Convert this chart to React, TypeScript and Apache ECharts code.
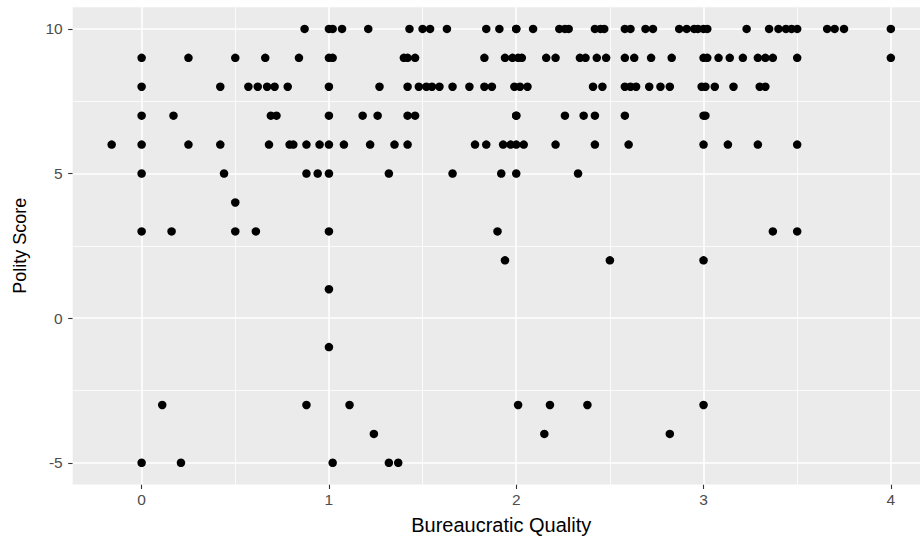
import React, { useEffect, useRef } from "react";
import * as echarts from "echarts";

// Bureaucratic quality (x) values of the countries at each Polity score (y)
const polity10 = [0.87, 1.0, 1.02, 1.07, 1.21, 1.43, 1.5, 1.54, 1.63, 1.84, 1.91, 2.0, 2.0, 2.09, 2.23, 2.26, 2.28, 2.42, 2.45, 2.47, 2.58, 2.61, 2.69, 2.73, 2.87, 2.91, 2.95, 2.97, 3.0, 3.02, 3.23, 3.35, 3.4, 3.44, 3.47, 3.5, 3.66, 3.7, 3.75, 4.0];
const polity9 = [0, 0.25, 0.5, 0.66, 0.84, 1.0, 1.02, 1.4, 1.42, 1.46, 1.83, 1.94, 1.98, 2.01, 2.03, 2.16, 2.21, 2.34, 2.37, 2.43, 2.48, 2.58, 2.63, 2.72, 2.83, 3.0, 3.02, 3.08, 3.14, 3.21, 3.29, 3.33, 3.37, 3.5, 4.0];
const polity8 = [0, 0.42, 0.57, 0.62, 0.67, 0.71, 0.78, 1.0, 1.27, 1.42, 1.48, 1.52, 1.55, 1.59, 1.66, 1.75, 1.83, 1.87, 1.99, 2.02, 2.06, 2.41, 2.46, 2.58, 2.61, 2.64, 2.71, 2.77, 2.82, 2.99, 3.01, 3.06, 3.16, 3.3, 3.33];
const polity7 = [0, 0.17, 0.69, 0.72, 1.0, 1.18, 1.26, 1.42, 1.46, 2.0, 2.0, 2.26, 2.36, 2.42, 2.58, 3.0, 3.01];
const polity6 = [-0.16, 0, 0.25, 0.42, 0.68, 0.79, 0.81, 0.88, 0.95, 1.0, 1.08, 1.22, 1.35, 1.42, 1.78, 1.84, 1.93, 1.97, 2.0, 2.04, 2.21, 2.42, 2.6, 3.0, 3.13, 3.29, 3.5];
const polity5 = [0, 0.44, 0.88, 0.94, 1.0, 1.32, 1.66, 1.92, 2.0, 2.33];
const polity4 = [0.5];
const polity3 = [0, 0.16, 0.5, 0.61, 1.0, 1.9, 3.37, 3.5];
const polity2 = [1.94, 2.5, 3.0];
const polity1 = [1.0];
const politym1 = [1.0];
const politym3 = [0.11, 0.88, 1.11, 2.01, 2.18, 2.38, 3.0];
const politym4 = [1.24, 2.15, 2.82];
const politym5 = [0, 0.21, 1.02, 1.32, 1.37];

const levels: [number, number[]][] = [
  [10, polity10], [9, polity9], [8, polity8], [7, polity7], [6, polity6],
  [5, polity5], [4, polity4], [3, polity3], [2, polity2], [1, polity1],
  [-1, politym1], [-3, politym3], [-4, politym4], [-5, politym5],
];

const xTicks = [0, 1, 2, 3, 4];
const yTicks = [-5, 0, 5, 10];
const xMinor = [0.5, 1.5, 2.5, 3.5];
const yMinor = [-2.5, 2.5, 7.5];

const FONT = "'Liberation Sans', Arial, Helvetica, sans-serif";

export default function App() {
  const ref = useRef<HTMLDivElement>(null);
  useEffect(() => {
    if (!ref.current) return;
    const chart = echarts.init(ref.current, undefined, { renderer: "svg" });
    const points: number[][] = [];
    levels.forEach(([y, xs]) => xs.forEach((x) => points.push([x, y])));

    const gridLines = [
      ...xTicks.map((v) => ({ xAxis: v, lineStyle: { width: 1.6 } })),
      ...yTicks.map((v) => ({ yAxis: v, lineStyle: { width: 1.6 } })),
      ...xMinor.map((v) => ({ xAxis: v, lineStyle: { width: 0.8 } })),
      ...yMinor.map((v) => ({ yAxis: v, lineStyle: { width: 0.8 } })),
    ];

    chart.setOption({
      animation: false,
      grid: {
        left: 72.7,
        top: 7.2,
        width: 857.1,
        height: 477.3,
        show: true,
        backgroundColor: "#EBEBEB",
        borderWidth: 0,
        containLabel: false,
        outerBoundsMode: "none",
      },
      xAxis: {
        type: "value",
        min: -0.368,
        max: 4.208,
        name: "Bureaucratic Quality",
        nameLocation: "middle",
        nameGap: 30,
        nameTextStyle: { fontFamily: FONT, fontSize: 20, color: "#000" },
        axisLine: { show: false, onZero: false },
        axisTick: {
          show: true,
          length: 4.5,
          customValues: xTicks,
          lineStyle: { color: "#333333", width: 1.1 },
        },
        axisLabel: {
          customValues: xTicks,
          margin: 7,
          fontFamily: FONT,
          fontSize: 15.5,
          color: "#4D4D4D",
        },
        splitLine: { show: false },
      },
      yAxis: {
        type: "value",
        min: -5.75,
        max: 10.75,
        name: "Polity Score",
        nameLocation: "middle",
        nameGap: 44,
        nameTextStyle: { fontFamily: FONT, fontSize: 18, color: "#000" },
        axisLine: { show: false, onZero: false },
        axisTick: {
          show: true,
          length: 4.5,
          customValues: yTicks,
          lineStyle: { color: "#333333", width: 1.1 },
        },
        axisLabel: {
          customValues: yTicks,
          margin: 10,
          fontFamily: FONT,
          fontSize: 15.5,
          color: "#4D4D4D",
        },
        splitLine: { show: false },
      },
      series: [
        {
          type: "scatter",
          data: [],
          z: 1,
          silent: true,
          markLine: {
            silent: true,
            z: 1,
            symbol: ["none", "none"],
            label: { show: false },
            lineStyle: { color: "#FFFFFF", type: "solid" },
            emphasis: { disabled: true },
            data: gridLines,
          },
        },
        {
          type: "scatter",
          z: 10,
          symbol: "circle",
          symbolSize: 8.5,
          itemStyle: { color: "#000000", opacity: 1 },
          data: points,
        },
      ],
    });
    return () => chart.dispose();
  }, []);
  return <div ref={ref} style={{ width: 920, height: 539, position: "absolute", left: 0, top: 0 }} />;
}
